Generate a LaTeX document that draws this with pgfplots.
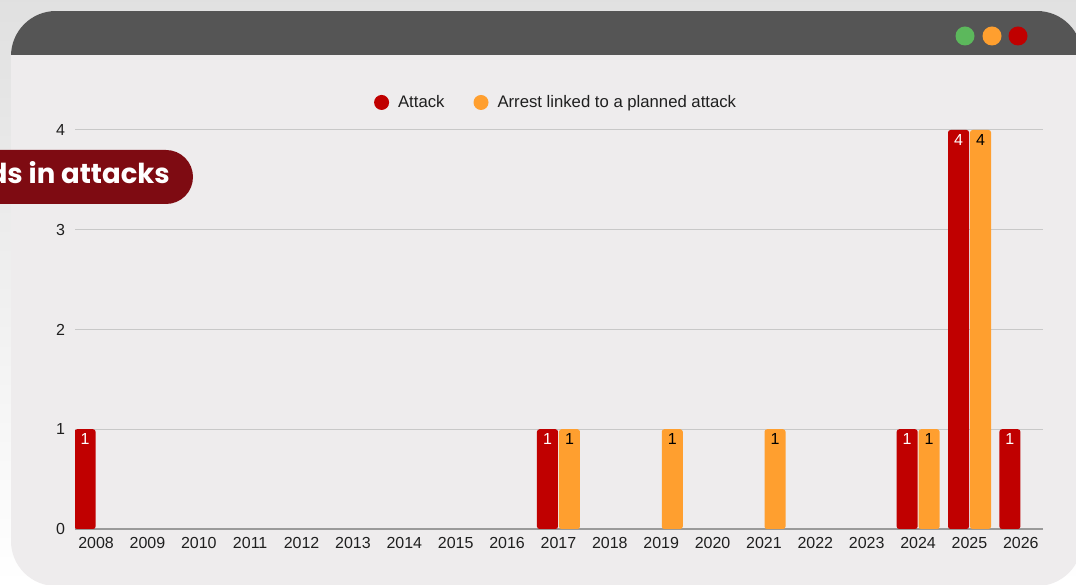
\documentclass[border=0pt]{standalone}
\usepackage{pgfplots}
\pgfplotsset{compat=1.18}
\usepackage{fontspec}
\setmainfont{Liberation Sans}
\newfontfamily\pillfont{Poppins}
\definecolor{attack}{HTML}{C00000}
\definecolor{arrest}{HTML}{FF9F2F}
\definecolor{titlebar}{HTML}{555555}
\definecolor{bodyc}{HTML}{EEECED}
\definecolor{pillc}{HTML}{7E0B12}
\definecolor{grn}{HTML}{5CB85C}
\definecolor{gridc}{HTML}{C8C8C8}
\definecolor{axisc}{HTML}{9A9A9A}
\begin{document}
\begin{tikzpicture}[x=1pt,y=1pt]
\useasboundingbox (0,0) rectangle (1076,585);
\shade[top color=black!12, bottom color=white] (0,0) rectangle (1076,585);
\begin{scope}
\clip (0,0) rectangle (1076,585);
\fill[bodyc, rounded corners=45] (11,-1) rectangle (1082,574);
\begin{scope}
\clip[rounded corners=45] (11,-1) rectangle (1082,574);
\fill[titlebar] (11,530) rectangle (1082,574);
\end{scope}
\fill[grn] (965,549) circle (9.5);
\fill[arrest] (992,549) circle (9.5);
\fill[attack] (1018,549) circle (9.5);
\end{scope}
\begin{axis}[
  at={(75pt,56pt)}, anchor=south west,
  scale only axis, width=968pt, height=399pt,
  xmin=2007.59, xmax=2026.43, ymin=0, ymax=4,
  enlarge x limits=false, enlarge y limits=false,
  ybar, bar width=21pt,
  axis x line*=bottom, axis y line*=left,
  y axis line style={draw=none},
  x axis line style={draw=axisc, line width=1.5pt},
  major tick length=0pt,
  xtick={2008,2009,...,2026},
  ytick={0,1,2,3,4},
  ymajorgrids, grid style={draw=gridc, line width=1pt},
  /pgf/number format/assume math mode=true,
  /pgf/number format/set thousands separator={},
  tick label style={font=\fontsize{16}{19}\selectfont, text=black!88},
  yticklabel style={xshift=-6.5pt},
  xticklabel style={yshift=-5pt},
  legend columns=2,
  legend style={at={(0.497,1.069)}, anchor=center, draw=none, fill=none,
    font=\fontsize{16.7}{20}\selectfont, text=black!88,
    /tikz/every odd column/.append style={column sep=7pt},
    /tikz/every even column/.append style={column sep=27pt}},
  legend image code/.code={\fill[#1,draw=none] (0pt,0pt) circle (7.5pt);},
]
\addplot[fill=attack, draw=none, rounded corners=2.5pt, bar shift=-11pt,
  nodes near coords,
  every node near coord/.append style={text=white, anchor=north, yshift=-1pt, font=\fontsize{16}{19}\selectfont}]
  coordinates {(2008,1) (2017,1) (2024,1) (2025,4) (2026,1)};
\addlegendentry{Attack}
\addplot[fill=arrest, draw=none, rounded corners=2.5pt, bar shift=11pt,
  nodes near coords,
  every node near coord/.append style={text=black, anchor=north, yshift=-1pt, font=\fontsize{16}{19}\selectfont}]
  coordinates {(2017,1) (2019,1) (2021,1) (2024,1) (2025,4)};
\addlegendentry{Arrest linked to a planned attack}
\end{axis}
\begin{scope}
\clip (0,0) rectangle (1076,585);
\fill[pillc, rounded corners=27] (-60,381) rectangle (193,435);
\node[anchor=base east, text=white, inner sep=0pt, font=\pillfont\bfseries\fontsize{27.5}{32}\selectfont] at (170,401) {ds in attacks};
\end{scope}
\end{tikzpicture}
\end{document}
